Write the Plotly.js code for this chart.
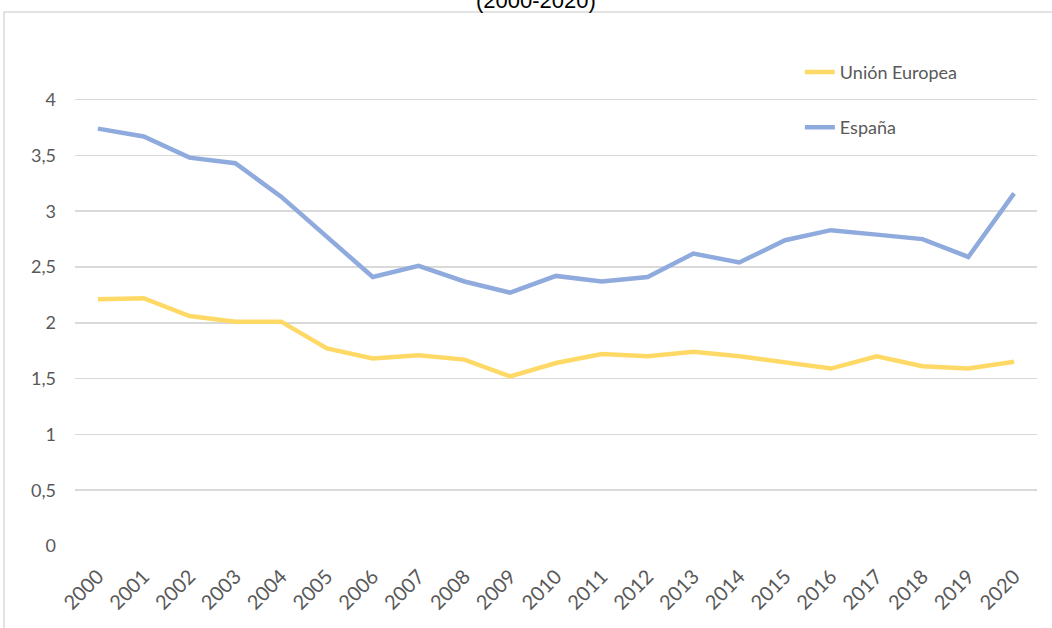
<!DOCTYPE html>
<html>
<head>
<meta charset="utf-8">
<script src="https://cdn.plot.ly/plotly-3.0.1.min.js"></script>
<style>html,body{margin:0;padding:0;background:#fff;}#chart{width:1052px;height:628px;}</style>
</head>
<body>
<div id="chart"></div>
<script>
const years = ["2000","2001","2002","2003","2004","2005","2006","2007","2008","2009","2010","2011","2012","2013","2014","2015","2016","2017","2018","2019","2020"];
const unionEuropea = [2.21,2.22,2.06,2.01,2.01,1.77,1.68,1.71,1.67,1.52,1.64,1.72,1.70,1.74,1.70,1.64,1.59,1.70,1.61,1.59,1.65];
const espana = [3.74,3.67,3.48,3.43,3.13,2.77,2.41,2.51,2.37,2.27,2.42,2.37,2.41,2.62,2.54,2.74,2.83,2.79,2.75,2.59,3.16];
const seriesNames = ["Unión Europea","España"];
const titleText = "(2000-2020)";

const traces = [
  {x: years, y: unionEuropea, name: seriesNames[0], type: "scatter", mode: "lines",
   line: {color: "#FFD966", width: 4.5, shape: "linear"}, legendgroup: "a"},
  {x: years, y: espana, name: seriesNames[1], type: "scatter", mode: "lines",
   line: {color: "#8FAADC", width: 4.5, shape: "linear"}, legendgroup: "b"}
];

const layout = {
  width: 1052, height: 628,
  margin: {l: 75, r: 15, t: 94, b: 82},
  paper_bgcolor: "#ffffff", plot_bgcolor: "#ffffff",
  separators: ",.",
  font: {family: "Lato, 'Noto Sans', sans-serif", color: "#595959", size: 17},
  xaxis: {type: "category", range: [-0.5, years.length - 0.5], tickangle: -45, showgrid: false,
          zeroline: false, showline: false, ticks: "", tickfont: {size: 20, color: "#595959"},
          ticklabelstandoff: 14, fixedrange: true},
  yaxis: {range: [0, 4.05], dtick: 0.5, tick0: 0, showgrid: true, gridcolor: "#d9d9d9", gridwidth: 1.5,
          zeroline: false, showline: false, ticks: "", tickfont: {size: 18, color: "#595959"},
          ticklabelstandoff: 18, fixedrange: true},
  showlegend: true,
  legend: {x: 0.7535, xanchor: "left", y: 1.089, yanchor: "top", bgcolor: "rgba(0,0,0,0)",
           font: {size: 18, color: "#595959"}, tracegroupgap: 29, traceorder: "grouped"},
  annotations: [{text: titleText, xref: "paper", yref: "paper", x: 0.4795, y: 1.207,
                 xanchor: "center", yanchor: "middle", showarrow: false,
                 font: {family: "'Liberation Sans', Arial, sans-serif", size: 22, color: "#000000"}}],
  shapes: [{type: "rect", xref: "paper", yref: "paper", x0: -0.0738, x1: 1.2, y0: -0.4, y1: 1.1814,
            line: {color: "#d9d9d9", width: 1.5}, fillcolor: "rgba(0,0,0,0)", layer: "below"}]
};

Plotly.newPlot("chart", traces, layout, {displayModeBar: false, staticPlot: true});
</script>
</body>
</html>
